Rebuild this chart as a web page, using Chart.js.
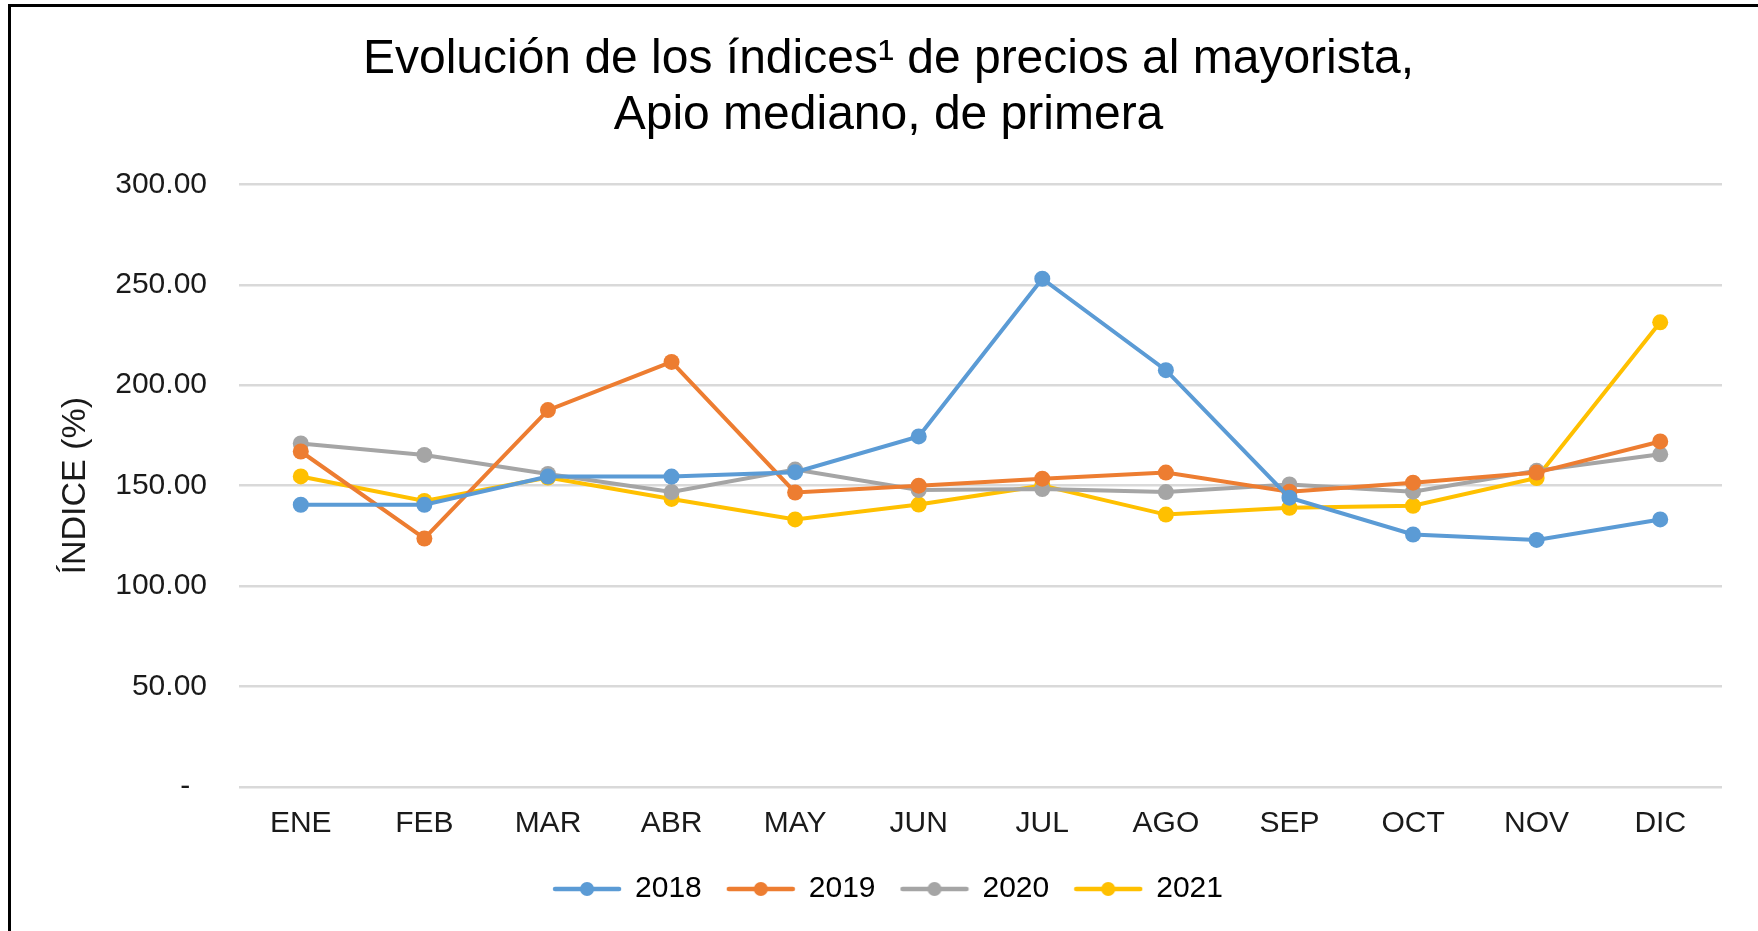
<!DOCTYPE html>
<html>
<head>
<meta charset="utf-8">
<script src="https://cdn.jsdelivr.net/npm/chart.js@4.4.1/dist/chart.umd.min.js"></script>
<style>
  html, body { margin: 0; padding: 0; background: #fff; }
  #wrap { position: relative; width: 1758px; height: 931px; overflow: hidden; }
  #frame { position: absolute; left: 8px; top: 4px; width: 2000px; height: 2000px;
           border-left: 3px solid #000; border-top: 3px solid #000; pointer-events: none; }
  canvas { position: absolute; left: 0; top: 0; }
</style>
</head>
<body>
<div id="wrap">
  <canvas id="indexChart" width="1758" height="931"></canvas>
  <div id="frame"></div>
</div>
<script>
  // categorias y valores
  const months = ['ENE', 'FEB', 'MAR', 'ABR', 'MAY', 'JUN', 'JUL', 'AGO', 'SEP', 'OCT', 'NOV', 'DIC'];
  const years = ['2018', '2019', '2020', '2021'];
  const values2018 = [140.5, 140.5, 154.5, 154.5, 156.7, 174.5, 253.0, 207.5, 144.0, 125.7, 123.0, 133.2];
  const values2019 = [167.0, 123.7, 187.6, 211.6, 146.6, 150.0, 153.5, 156.5, 147.0, 151.5, 156.5, 172.0];
  const values2020 = [171.0, 165.3, 155.8, 146.8, 158.0, 147.8, 148.3, 146.8, 150.6, 147.0, 157.4, 165.6];
  const values2021 = [154.6, 142.4, 154.0, 143.4, 133.2, 140.6, 150.0, 135.6, 139.0, 140.0, 153.8, 231.3];
  const yTicks = [0, 50, 100, 150, 200, 250, 300];

  const colors = ['#5B9BD5', '#ED7D31', '#A5A5A5', '#FFC000'];
  const series = [values2018, values2019, values2020, values2021];
  const FONT = "'Liberation Sans', Arial, sans-serif";

  // legend marker: short line with a dot
  function legendMarker(color) {
    const c = document.createElement('canvas');
    c.width = 70; c.height = 18;
    const g = c.getContext('2d');
    g.strokeStyle = color;
    g.lineWidth = 4.5;
    g.lineCap = 'round';
    g.beginPath(); g.moveTo(3, 9); g.lineTo(67, 9); g.stroke();
    g.fillStyle = color;
    g.beginPath(); g.arc(35, 9, 7, 0, Math.PI * 2); g.fill();
    return c;
  }

  const datasets = years.map((y, i) => ({
    label: y,
    data: series[i],
    borderColor: colors[i],
    backgroundColor: colors[i],
    borderWidth: 4,
    pointRadius: 8,
    pointHoverRadius: 8,
    pointBorderWidth: 0,
    pointStyle: 'circle',
    tension: 0
  }));

  const markers = colors.map(legendMarker);

  const ctx = document.getElementById('indexChart').getContext('2d');
  new Chart(ctx, {
    type: 'line',
    data: { labels: months, datasets: datasets },
    options: {
      responsive: false,
      animation: false,
      devicePixelRatio: 1,
      layout: { padding: { left: 55, right: 36, top: 0, bottom: 17 } },
      plugins: {
        tooltip: { enabled: false },
        title: {
          display: true,
          text: ['Evolución de los índices¹ de precios al mayorista,', 'Apio mediano, de primera'],
          color: '#000',
          font: { family: FONT, size: 48, weight: 'normal', lineHeight: 1.17 },
          padding: { top: 32, bottom: 40 }
        },
        legend: {
          position: 'bottom',
          labels: {
            color: '#000',
            font: { family: FONT, size: 30 },
            usePointStyle: true,
            pointStyleWidth: 66,
            padding: 26,
            generateLabels: (chart) => chart.data.datasets.map((ds, i) => ({
              text: ds.label,
              pointStyle: markers[i],
              fillStyle: ds.borderColor,
              strokeStyle: ds.borderColor,
              lineWidth: 0,
              datasetIndex: i,
              hidden: false
            }))
          }
        }
      },
      scales: {
        x: {
          offset: true,
          afterFit: (scale) => { scale.height -= 13; },
          grid: { display: false, drawTicks: false },
          border: { display: false },
          ticks: { color: '#1a1a1a', font: { family: FONT, size: 30 }, padding: 19, maxRotation: 0 }
        },
        y: {
          min: 0,
          max: 300,
          afterBuildTicks: (scale) => { scale.ticks = yTicks.map(v => ({ value: v })); },
          afterFit: (scale) => { scale.width = 184; },
          grid: { color: '#d9d9d9', lineWidth: 2.5, drawTicks: false },
          border: { display: false },
          ticks: {
            color: '#1a1a1a',
            font: { family: FONT, size: 30 },
            padding: 32,
            callback: (v) => v === 0 ? '-  ' : v.toFixed(2)
          },
          title: {
            display: true,
            text: 'ÍNDICE (%)',
            color: '#1a1a1a',
            font: { family: FONT, size: 34 },
            padding: 0
          }
        }
      }
    }
  });
</script>
</body>
</html>
